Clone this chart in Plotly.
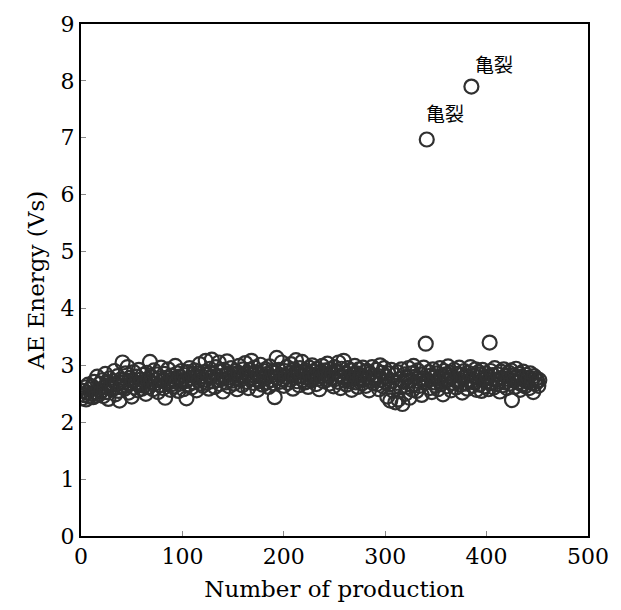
import plotly.graph_objects as go

# AE energy per produced part (Vs), production numbers 1..N
ae_energy = [
    2.42, 2.55, 2.48, 2.61, 2.40, 2.52, 2.66, 2.45, 2.58, 2.50,
    2.63, 2.44, 2.71, 2.52, 2.47, 2.80, 2.57, 2.49, 2.68, 2.55,
    2.74, 2.46, 2.62, 2.85, 2.53, 2.69, 2.41, 2.77, 2.60, 2.66,
    2.58, 2.72, 2.90, 2.49, 2.67, 2.81, 2.55, 2.38, 2.75, 2.63,
    3.05, 2.70, 2.59, 2.86, 2.64, 2.97, 2.52, 2.78, 2.68, 2.45,
    2.73, 2.88, 2.61, 2.69, 2.80, 2.56, 2.92, 2.66, 2.75, 2.59,
    2.83, 2.64, 2.71, 2.50, 2.87, 2.76, 2.62, 3.06, 2.70, 2.79,
    2.58, 2.91, 2.68, 2.74, 2.84, 2.53, 2.77, 2.65, 2.96, 2.72,
    2.60, 2.85, 2.43, 2.78, 2.69, 2.93, 2.73, 2.57, 2.82, 2.67,
    2.76, 2.63, 2.99, 2.71, 2.86, 2.55, 2.80, 2.68, 2.90, 2.74,
    2.58, 2.83, 2.72, 2.42, 2.88, 2.66, 2.95, 2.77, 2.61, 2.84,
    2.70, 2.91, 2.79, 2.56, 2.86, 2.73, 3.02, 2.68, 2.81, 2.64,
    2.88, 2.75, 3.08, 2.69, 2.83, 2.59, 2.94, 2.78, 3.10, 2.72,
    2.85, 2.62, 2.97, 2.80, 2.74, 3.05, 2.67, 2.89, 2.76, 2.54,
    2.92, 2.81, 2.70, 3.07, 2.86, 2.63, 2.79, 2.95, 2.73, 2.84,
    2.68, 2.90, 2.77, 2.58, 2.87, 2.99, 2.74, 2.82, 2.65, 2.93,
    2.80, 3.04, 2.71, 2.86, 2.60, 2.92, 2.78, 3.08, 2.83, 2.69,
    2.96, 2.75, 2.88, 2.57, 2.84, 2.72, 3.01, 2.79, 2.66, 2.90,
    2.77, 2.93, 2.70, 2.85, 2.62, 2.98, 2.81, 2.74, 2.89, 2.68,
    2.44, 2.87, 3.13, 2.78, 2.92, 2.71, 2.83, 3.05, 2.76, 2.64,
    2.90, 2.80, 2.97, 2.69, 2.86, 2.75, 3.02, 2.82, 2.59, 2.93,
    2.78, 3.09, 2.72, 2.88, 2.65, 2.95, 2.81, 3.06, 2.74, 2.87,
    2.70, 2.91, 2.79, 2.62, 2.96, 2.84, 2.73, 3.00, 2.77, 2.89,
    2.83, 2.67, 2.94, 2.76, 2.58, 2.87, 2.80, 2.99, 2.72, 2.85,
    2.91, 2.74, 3.03, 2.81, 2.68, 2.93, 2.78, 2.86, 2.63, 2.97,
    2.76, 2.89, 2.71, 3.05, 2.82, 2.60, 2.94, 2.79, 3.08, 2.73,
    2.87, 2.66, 2.95, 2.80, 2.72, 2.91, 2.57, 2.84, 2.77, 2.99,
    2.70, 2.86, 2.62, 2.93, 2.78, 2.83, 2.68, 2.96, 2.75, 2.88,
    2.64, 2.90, 2.79, 2.56, 2.85, 2.73, 2.97, 2.69, 2.82, 2.76,
    2.92, 2.67, 2.81, 2.58, 3.00, 2.74, 2.87, 2.63, 2.95, 2.71,
    2.80, 2.45, 2.86, 2.66, 2.38, 2.92, 2.73, 2.55, 2.83, 2.35,
    2.69, 2.88, 2.40, 2.76, 2.61, 2.93, 2.32, 2.71, 2.84, 2.50,
    2.78, 2.62, 2.95, 2.43, 2.73, 2.86, 2.57, 2.99, 2.67, 2.80,
    2.55, 2.91, 2.72, 2.64, 2.84, 2.48, 2.77, 2.96, 2.69, 3.38,
    6.97, 2.74, 2.88, 2.60, 2.82, 2.53, 2.93, 2.70, 2.79, 2.64,
    2.86, 2.58, 2.77, 2.95, 2.67, 2.81, 2.49, 2.90, 2.72, 2.84,
    2.63, 2.98, 2.75, 2.87, 2.56, 2.80, 2.69, 2.92, 2.74, 2.61,
    2.85, 2.71, 2.96, 2.66, 2.83, 2.52, 2.78, 2.90, 2.68, 2.81,
    2.59, 2.87, 2.73, 2.97, 7.90, 2.64, 2.82, 2.70, 2.93, 2.57,
    2.79, 2.88, 2.66, 2.84, 2.55, 2.92, 2.74, 2.63, 2.86, 2.71,
    2.80, 2.58, 3.40, 2.90, 2.69, 2.83, 2.61, 2.95, 2.75, 2.67,
    2.84, 2.72, 2.54, 2.89, 2.78, 2.65, 2.93, 2.70, 2.81, 2.60,
    2.76, 2.87, 2.68, 2.91, 2.39, 2.82, 2.73, 2.62, 2.94, 2.79,
    2.70, 2.85, 2.57, 2.80, 2.66, 2.89, 2.74, 2.63, 2.83, 2.71,
    2.78, 2.60, 2.86, 2.69, 2.75, 2.53, 2.81, 2.67, 2.77, 2.72,
    2.64, 2.74,
]
production = list(range(1, len(ae_energy) + 1))

crack_labels = ["亀裂", "亀裂"]
crack_x = [359, 407]
crack_y = [7.44, 8.31]

x_ticks = [0, 100, 200, 300, 400, 500]
y_ticks = [0, 1, 2, 3, 4, 5, 6, 7, 8, 9]

fig = go.Figure()
fig.add_trace(go.Scatter(
    x=production, y=ae_energy, mode="markers",
    marker=dict(symbol="circle-open", size=14, color="#303030",
                line=dict(width=2.2, color="#303030")),
    showlegend=False,
))

for t, xx, yy in zip(crack_labels, crack_x, crack_y):
    fig.add_annotation(x=xx, y=yy, text=t, showarrow=False,
                       font=dict(family="Noto Sans CJK JP", size=19, color="black"))

serif = "DejaVu Serif"
fig.update_layout(
    width=621, height=610,
    margin=dict(l=81, r=29, t=22, b=70),
    paper_bgcolor="white", plot_bgcolor="white",
    font=dict(family=serif, color="black"),
)
fig.update_xaxes(
    range=[0, 500], tickvals=x_ticks, ticks="inside", ticklen=5, tickwidth=1,
    tickcolor="#888", showline=True, linecolor="black", linewidth=2, mirror=True,
    showgrid=False, zeroline=False, tickfont=dict(family=serif, size=22),
    title=dict(text="Number of production", font=dict(family=serif, size=23), standoff=12),
)
fig.update_yaxes(
    range=[0, 9], tickvals=y_ticks, ticks="inside", ticklen=5, tickwidth=1,
    tickcolor="#888", showline=True, linecolor="black", linewidth=2, mirror=True,
    showgrid=False, zeroline=False, tickfont=dict(family=serif, size=22),
    title=dict(text="AE Energy (Vs)", font=dict(family=serif, size=23), standoff=10),
)

fig.write_html("out.html")
